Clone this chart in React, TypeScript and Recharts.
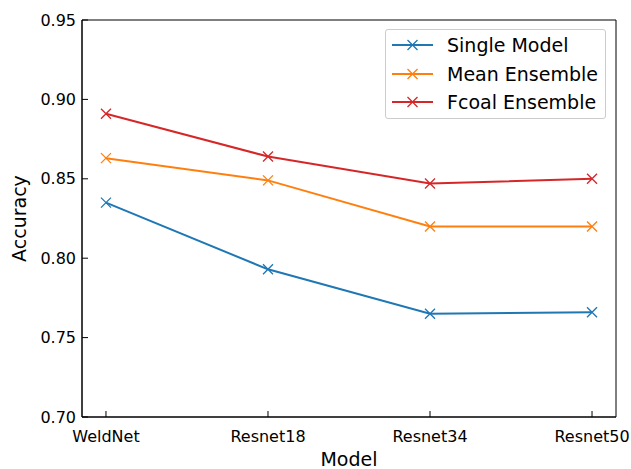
import React from "react";
import { Line, LineChart, ReferenceArea, XAxis, YAxis } from "recharts";

const models = ["WeldNet", "Resnet18", "Resnet34", "Resnet50"];
const singleModel = [0.835, 0.793, 0.765, 0.766];
const meanEnsemble = [0.863, 0.849, 0.82, 0.82];
const fcoalEnsemble = [0.891, 0.864, 0.847, 0.85];
const yTicks = [0.7, 0.75, 0.8, 0.85, 0.9, 0.95];

const series = [
  { key: "single", name: "Single Model", color: "#1f77b4" },
  { key: "mean", name: "Mean Ensemble", color: "#ff7f0e" },
  { key: "fcoal", name: "Fcoal Ensemble", color: "#d62728" },
];

const data = models.map((model, i) => ({
  idx: i,
  model,
  single: singleModel[i],
  mean: meanEnsemble[i],
  fcoal: fcoalEnsemble[i],
}));

// matplotlib-style margins around the first/last category
const xMin = -0.148;
const xMax = models.length - 1 + 0.148;
const yMin = 0.7;
const yMax = 0.95;

const font = "DejaVu Sans, Verdana, sans-serif";

function XMark(props: any) {
  const { cx, cy, stroke } = props;
  if (cx == null || cy == null) return null;
  const s = 5;
  return (
    <path
      d={`M${cx - s},${cy - s}L${cx + s},${cy + s}M${cx - s},${cy + s}L${cx + s},${cy - s}`}
      stroke={stroke}
      strokeWidth={1.3}
      fill="none"
    />
  );
}

function LegendBox() {
  return (
    <div
      style={{
        position: "absolute",
        left: 385,
        top: 29,
        width: 219,
        height: 88,
        border: "1px solid #cccccc",
        borderRadius: 3,
        background: "rgba(255,255,255,0.8)",
        fontFamily: font,
        fontSize: 19,
        color: "#000",
      }}
    >
      {series.map((s, i) => (
        <div
          key={s.key}
          style={{
            position: "absolute",
            left: 0,
            top: 1 + i * 28.5,
            height: 28,
            display: "flex",
            alignItems: "center",
            whiteSpace: "nowrap",
          }}
        >
          <svg width={61} height={28} style={{ display: "block" }}>
            <line x1={6} x2={47} y1={14} y2={14} stroke={s.color} strokeWidth={2} />
            <XMark cx={26.5} cy={14} stroke={s.color} />
          </svg>
          <span style={{ lineHeight: "28px" }}>{s.name}</span>
        </div>
      ))}
    </div>
  );
}

export default function App() {
  return (
    <div style={{ position: "absolute", left: 0, top: 0, width: 631, height: 469, background: "#fff" }}>
      <LineChart width={631} height={469} data={data} margin={{ top: 20, right: 15, bottom: 0, left: 0 }}>
        <XAxis
          dataKey="idx"
          type="number"
          domain={[xMin, xMax]}
          ticks={models.map((_, i) => i)}
          allowDataOverflow
          height={52}
          stroke="#000"
          tickSize={-6}
          tickMargin={20}
          tickFormatter={(v: number) => models[v] ?? ""}
          tick={{ fill: "#000", fontSize: 16, fontFamily: font }}
          label={{ value: "Model", position: "insideBottom", offset: 3, fill: "#000", fontSize: 19, fontFamily: font }}
        />
        <YAxis
          type="number"
          width={82}
          domain={[yMin, yMax]}
          ticks={yTicks}
          allowDataOverflow
          stroke="#000"
          tickSize={-6}
          tickMargin={12}
          tickFormatter={(v: number) => v.toFixed(2)}
          tick={{ fill: "#000", fontSize: 16, fontFamily: font }}
          label={{
            value: "Accuracy",
            angle: -90,
            position: "insideLeft",
            offset: 19,
            fill: "#000",
            fontSize: 19,
            fontFamily: font,
            style: { textAnchor: "middle" },
          }}
        />
        <ReferenceArea x1={xMin} x2={xMax} y1={yMin} y2={yMax} fill="none" stroke="#000" strokeWidth={1} ifOverflow="visible" />
        {series.map((s) => (
          <Line
            key={s.key}
            type="linear"
            dataKey={s.key}
            name={s.name}
            stroke={s.color}
            strokeWidth={2}
            dot={<XMark />}
            activeDot={false}
            isAnimationActive={false}
          />
        ))}
      </LineChart>
      <LegendBox />
    </div>
  );
}
